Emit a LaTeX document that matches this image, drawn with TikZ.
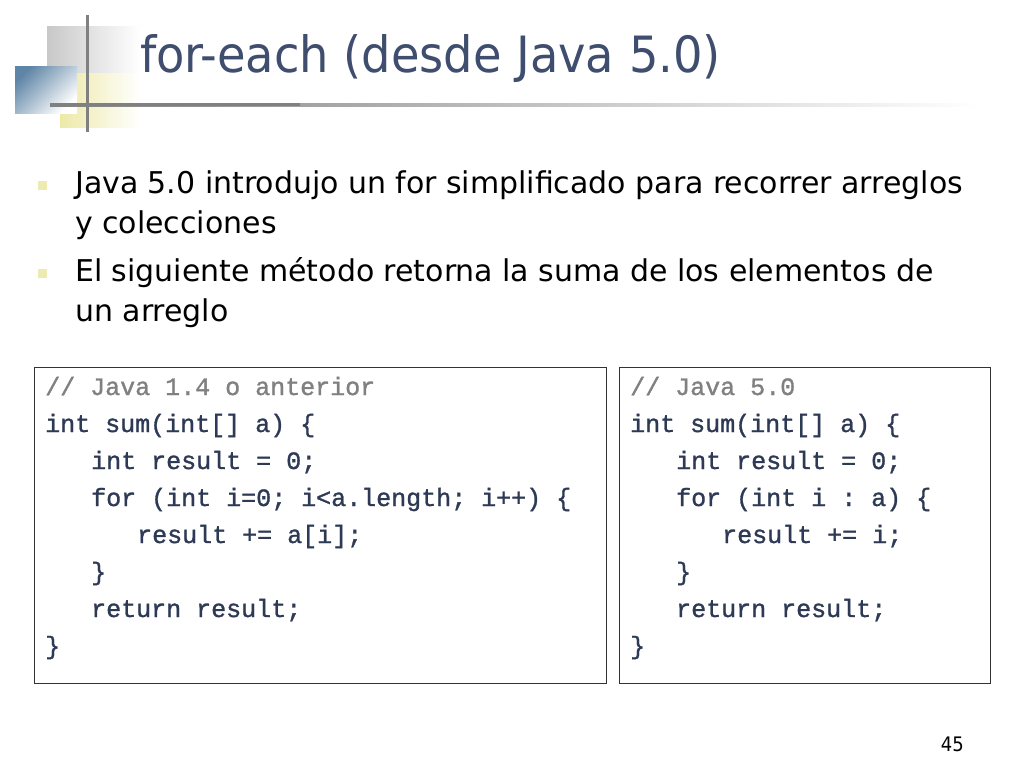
\documentclass[tikz,border=0pt]{standalone}
\usepackage{fontspec}
\setmainfont{DejaVu Sans Condensed}
\newfontfamily\bodyfont{DejaVu Sans Condensed}[FakeStretch=1.11]
\newfontfamily\titlefont{DejaVu Sans Condensed}[FakeStretch=1.03]
\setmonofont{Liberation Mono}[FakeBold=1.2]
\definecolor{titlec}{HTML}{3F4D6E}
\definecolor{codec}{HTML}{2E3A55}
\definecolor{commc}{HTML}{808080}
\definecolor{bulc}{HTML}{EEEBB0}
\definecolor{logog}{HTML}{C8C8C8}
\definecolor{logob}{HTML}{5F85A6}
\definecolor{logoy}{HTML}{EDE9A8}
\tikzset{
 code/.style={anchor=base west,inner sep=0pt,font=\ttfamily\fontsize{25}{25}\selectfont,text=codec},
 comm/.style={code,text=commc},
 body/.style={anchor=base west,inner sep=0pt,font=\bodyfont\fontsize{30}{30}\selectfont,text=black},
 bul/.style={fill=bulc,minimum size=9pt,inner sep=0pt},
 codebox/.style={draw=black!80,line width=1pt,inner sep=0pt}
}
\begin{document}
\begin{tikzpicture}[x=1pt,y=-1pt]
\useasboundingbox (0,0) rectangle (1024,768);
\fill[white] (0,0) rectangle (1024,768);
% logo
\shade[left color=logog,right color=white] (47,27) rectangle (140,100);
\shade[left color=logoy,right color=white] (60,73) rectangle (140,127);
\shade[top color=logob,bottom color=white,shading angle=45] (15,66) rectangle (77,113);
\shade[left color=gray,right color=white] (50,103) rectangle (980,106);
\fill[gray] (50,103) rectangle (300,106);
\fill[gray] (86,15) rectangle (89,132);
\node[anchor=base west,inner sep=0pt,font=\titlefont\fontsize{50}{50}\selectfont,text=titlec] (title) at (140,72) {for-each (desde Java 5.0)};
% bullets
\node[bul] (b1) at (42,185) {};
\node[bul] (b2) at (42,273) {};
\node[body] (t1) at (75,193) {Java 5.0 introdujo un for simplificado para recorrer arreglos};
\node[body] (t2) at (75,233) {y colecciones};
\node[body] (t3) at (75,281) {El siguiente método retorna la suma de los elementos de};
\node[body] (t4) at (75,321) {un arreglo};
% boxes
\node[codebox,minimum width=572pt,minimum height=316pt,anchor=north west] (lb) at (34,367) {};
\node[codebox,minimum width=371pt,minimum height=316pt,anchor=north west] (rb) at (619,367) {};
\node[comm] (l1) at (45,395) {// Java 1.4 o anterior};
\node[code] (l2) at (45,432) {int sum(int[] a) \{};
\node[code] (l3) at (91,469) {int result = 0;};
\node[code] (l4) at (91,506) {for (int i=0; i<a.length; i++) \{};
\node[code] (l5) at (137,543) {result += a[i];};
\node[code] (l6) at (91,580) {\}};
\node[code] (l7) at (91,617) {return result;};
\node[code] (l8) at (45,654) {\}};
\node[comm] (r1) at (630,395) {// Java 5.0};
\node[code] (r2) at (630,432) {int sum(int[] a) \{};
\node[code] (r3) at (676,469) {int result = 0;};
\node[code] (r4) at (676,506) {for (int i : a) \{};
\node[code] (r5) at (722,543) {result += i;};
\node[code] (r6) at (676,580) {\}};
\node[code] (r7) at (676,617) {return result;};
\node[code] (r8) at (630,654) {\}};
\node[anchor=base east,inner sep=0pt,font=\fontsize{20}{20}\selectfont] (pg) at (964,751) {45};
\end{tikzpicture}
\end{document}
